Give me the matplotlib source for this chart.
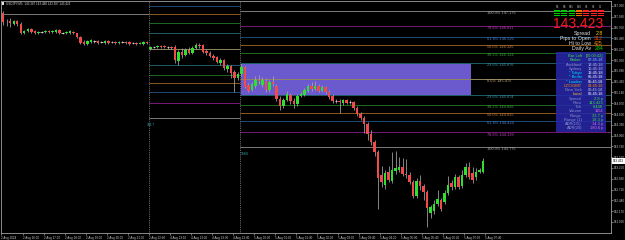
import numpy as np
import matplotlib
matplotlib.use('Agg')
import matplotlib.pyplot as plt
from matplotlib.patches import Rectangle

plt.rcParams['font.family'] = ['Liberation Sans', 'DejaVu Sans']

# ── USDJPY M5 candles ──
opens = [
    147.125, 146.900, 146.925, 146.850, 146.925, 146.850, 146.625, 146.675, 146.725, 146.675,
    146.625, 146.650, 146.650, 146.675, 146.650, 146.650, 146.700, 146.625, 146.625, 146.625,
    146.650, 146.625, 146.525, 146.400, 146.350, 146.400, 146.425, 146.425, 146.400, 146.375,
    146.425, 146.400, 146.400, 146.375, 146.400, 146.400, 146.400, 146.375, 146.375, 146.350,
    146.350, 146.400, 146.225, 146.275, 146.275, 146.300, 146.300, 146.275, 146.275, 146.275,
    145.925, 146.150, 146.075, 146.200, 146.125, 146.250, 146.325, 146.325, 146.175, 146.125,
    146.050, 146.025, 145.875, 145.950, 145.725, 145.800, 145.650, 145.500, 145.600, 145.775,
    145.325, 145.200, 145.300, 145.450, 145.325, 145.425, 145.200, 145.400, 145.300, 144.975,
    144.800, 144.950, 145.075, 144.925, 144.850, 145.050, 145.075, 145.175, 145.300, 145.225,
    145.300, 145.175, 145.275, 145.150, 145.050, 144.925, 144.925, 144.875, 144.950, 144.900,
    144.900, 144.750, 144.600, 144.500, 144.350, 144.100, 143.900, 143.650, 143.075, 142.825,
    143.150, 142.925, 143.175, 143.200, 143.275, 143.100, 143.075, 142.900, 142.550, 142.925,
    142.800, 142.650, 142.125, 142.175, 142.350, 142.450, 142.400, 142.625, 142.875, 142.775,
    143.025, 142.800, 143.075, 143.275, 143.125, 143.025, 143.150, 143.150,
]
closes = [
    146.900, 146.890, 146.875, 146.925, 146.850, 146.625, 146.675, 146.725, 146.650, 146.625,
    146.650, 146.645, 146.675, 146.650, 146.675, 146.700, 146.625, 146.620, 146.650, 146.675,
    146.625, 146.525, 146.375, 146.350, 146.425, 146.450, 146.420, 146.375, 146.395, 146.425,
    146.375, 146.405, 146.375, 146.400, 146.395, 146.375, 146.350, 146.370, 146.350, 146.375,
    146.400, 146.375, 146.275, 146.270, 146.300, 146.275, 146.275, 146.270, 146.250, 145.950,
    146.150, 146.075, 146.200, 146.125, 146.250, 146.325, 146.300, 146.150, 146.125, 146.050,
    146.000, 145.900, 145.950, 145.750, 145.800, 145.625, 145.500, 145.600, 145.775, 145.275,
    145.175, 145.350, 145.450, 145.425, 145.450, 145.200, 145.400, 145.350, 144.975, 144.800,
    144.950, 145.100, 144.925, 144.850, 145.050, 145.100, 145.200, 145.300, 145.225, 145.300,
    145.175, 145.275, 145.150, 145.025, 144.925, 144.920, 144.900, 144.950, 144.875, 144.895,
    144.750, 144.600, 144.500, 144.350, 144.100, 143.900, 143.650, 143.000, 142.900, 143.125,
    142.950, 143.200, 143.250, 143.275, 143.100, 143.075, 142.900, 142.550, 142.925, 142.800,
    142.650, 142.250, 142.275, 142.350, 142.475, 142.225, 142.625, 142.825, 142.775, 143.025,
    142.775, 143.075, 143.275, 143.025, 142.950, 143.150, 143.200, 143.423,
]
highs = [
    147.175, 146.975, 147.000, 146.950, 146.950, 146.900, 146.700, 146.750, 146.750, 146.700,
    146.675, 146.675, 146.700, 146.700, 146.700, 146.725, 146.725, 146.650, 146.675, 146.700,
    146.675, 146.625, 146.550, 146.450, 146.450, 146.475, 146.450, 146.450, 146.425, 146.450,
    146.450, 146.425, 146.425, 146.425, 146.425, 146.425, 146.425, 146.400, 146.400, 146.400,
    146.425, 146.425, 146.300, 146.300, 146.325, 146.325, 146.325, 146.300, 146.300, 146.325,
    146.200, 146.250, 146.250, 146.275, 146.300, 146.375, 146.375, 146.350, 146.225, 146.175,
    146.100, 146.050, 146.000, 145.975, 145.850, 145.825, 145.700, 145.650, 145.850, 145.800,
    145.375, 145.400, 145.550, 145.575, 145.525, 145.500, 145.450, 145.550, 145.350, 145.050,
    145.000, 145.175, 145.125, 145.000, 145.100, 145.150, 145.250, 145.350, 145.400, 145.425,
    145.350, 145.325, 145.300, 145.200, 145.100, 144.975, 144.975, 144.975, 144.975, 144.950,
    144.925, 144.800, 144.650, 144.550, 144.400, 144.200, 143.950, 143.700, 143.300, 143.200,
    143.300, 143.650, 143.675, 143.525, 143.500, 143.475, 143.150, 142.950, 143.000, 143.075,
    142.850, 142.700, 142.325, 142.450, 142.700, 142.500, 142.700, 143.050, 142.950, 143.100,
    143.075, 143.200, 143.375, 143.400, 143.275, 143.250, 143.250, 143.500,
]
lows = [
    146.825, 146.800, 146.775, 146.825, 146.800, 146.600, 146.600, 146.650, 146.625, 146.600,
    146.600, 146.625, 146.625, 146.625, 146.625, 146.625, 146.600, 146.600, 146.600, 146.600,
    146.600, 146.500, 146.350, 146.325, 146.325, 146.375, 146.375, 146.350, 146.375, 146.350,
    146.350, 146.375, 146.350, 146.350, 146.375, 146.350, 146.325, 146.350, 146.325, 146.350,
    146.325, 146.350, 146.200, 146.250, 146.250, 146.250, 146.250, 146.225, 146.225, 145.875,
    145.825, 146.000, 146.050, 146.100, 146.100, 146.225, 146.250, 146.125, 146.075, 146.025,
    145.950, 145.875, 145.825, 145.700, 145.650, 145.500, 145.150, 145.450, 145.550, 145.250,
    145.150, 145.175, 145.250, 145.350, 145.275, 145.150, 145.150, 145.300, 144.925, 144.700,
    144.750, 144.925, 144.850, 144.750, 144.800, 145.025, 145.050, 145.150, 145.175, 145.200,
    145.150, 145.150, 145.100, 144.975, 144.875, 144.875, 144.625, 144.825, 144.850, 144.850,
    144.700, 144.550, 144.450, 144.125, 143.950, 143.825, 143.550, 142.225, 142.775, 142.725,
    142.900, 142.875, 143.100, 143.150, 143.050, 143.000, 142.850, 142.500, 142.500, 142.700,
    142.450, 141.775, 142.000, 142.100, 142.300, 142.175, 142.350, 142.575, 142.700, 142.725,
    142.725, 142.750, 143.025, 142.975, 142.875, 142.950, 143.125, 143.125,
]

# day separators (bar positions) and the weekend range box
day_breaks = [41.5, 67.5]
box_bars = (67.8, 133.5)
box_prices = (145.050, 145.875)
old_level = 147.100

# fibonacci levels: left set (previous session) and right set (current)
fib_labels = ['100.0%', '78.6%', '61.8%', '50.0%', '38.2%', '23.6%', '0.0%',
              '23.6%', '38.2%', '50.0%', '61.8%', '78.6%', '100.0%']
fib_left = [147.950, 147.581, 147.291, 147.088, 146.884, 146.632, 146.225,
            145.818, 145.566, 145.363, 145.159, 144.869, 144.500]
fib_right = [147.175, 146.811, 146.526, 146.325, 146.124, 145.876, 145.475,
             145.074, 144.826, 144.625, 144.424, 144.139, 143.775]
fib_line_cols = ['#7a7a7a', '#761876', '#1d4a72', '#8a5a20', '#1e6a1e', '#1d5a66', '#8f8660',
                 '#1d5a66', '#1e6a1e', '#8a5a20', '#1d4a72', '#761876', '#7a7a7a']
fib_text_cols = ['#b0b0b0', '#c040c0', '#4a80c8', '#c88040', '#3aa03a', '#3a9ab0', '#c8b070',
                 '#3a9ab0', '#3aa03a', '#c88040', '#4a80c8', '#c040c0', '#b0b0b0']

# range labels at the separators
range_texts = ['166.7', '158.6']
range_pos = [(41.0, 144.325), (67.7, 143.600)]

# axes labels
price_ticks = [147.30, 147.03, 146.76, 146.49, 146.22, 145.95, 145.68, 145.41, 145.14, 144.87,
               144.60, 144.33, 144.06, 143.79, 143.52, 143.25, 142.98, 142.71, 142.44, 142.17,
               141.90]
time_labels = ['2 Aug 2024', '2 Aug 16:00', '2 Aug 17:00', '2 Aug 18:00', '2 Aug 19:00',
               '2 Aug 20:00', '2 Aug 21:00', '2 Aug 22:40', '4 Aug 23:10', '4 Aug 23:20',
               '4 Aug 23:30', '4 Aug 23:40', '5 Aug 00:20', '5 Aug 01:00', '5 Aug 01:40',
               '5 Aug 02:20', '5 Aug 03:00', '5 Aug 03:40', '5 Aug 04:20', '5 Aug 05:00',
               '5 Aug 05:40', '5 Aug 06:20', '5 Aug 07:00', '5 Aug 07:40']

# info block (top right)
tf_names = ['M1', 'M5', 'M15', 'M30', 'H1', 'H4', 'D1']
tf_cols = ['#00c800', '#00c800', '#00c800', '#ff6a00', '#ff2020', '#ff2020', '#ff2020']
info_labels = ['Spread', 'Pips to Open', 'Hi to Low', 'Daily Av']
info_values = ['2.8', '312', '425', '284']
info_cols = ['#ffd700', '#ff4500', '#ff8c00', '#00e000']

panel_labels = ['Bar Left', 'Broker', 'Auckland', 'Sydney', '* Tokyo', '* Berlin', '* London',
                'UTC/GMT', 'New York', 'Local', 'Spread', 'Price', 'Tick', 'Volume', 'Range',
                'Range (1)', 'ADR(1/5)', 'ADR(20)']
panel_values = ['[00:00:42]', '07:45:18', '18:45:18', '16:45:18', '13:45:18', '06:45:18',
                '05:45:18', '04:45:18', '00:45:18', '06:45:18', '2.8 p', '143.423', '0.448',
                '1154', '33.7 p', '18.3 p', '14.3 p', '180.6 p']
panel_lab_cols = ['#40e040', '#40e040', '#9090d0', '#9090d0', '#00e0ff', '#00e0ff', '#00e0ff',
                  '#ff8c00', '#9090d0', '#ffc040', '#9090d0', '#9090d0', '#9090d0', '#9090d0',
                  '#9090d0', '#9090d0', '#9090d0', '#9090d0']
panel_val_cols = ['#40e040', '#80c0ff', '#c0c0e0', '#c0c0e0', '#ffffff', '#ffffff', '#ffffff',
                  '#ff8c00', '#c0c0e0', '#ffffff', '#40e040', '#40e040', '#40e040', '#e070e0',
                  '#40e040', '#40e040', '#e070e0', '#e070e0']

W, H = 625, 240


def fx(px):
    return px / W


def fy(py):
    return 1 - py / H


fig = plt.figure(figsize=(6.25, 2.4), dpi=100, facecolor='black')
ax = fig.add_axes([1.5 / W, 7 / H, 609.5 / W, 232 / H])
ax.set_facecolor('black')
ax.set_xlim(-0.5, 173.5)
ax.set_ylim(141.625, 147.425)

# ── box, levels, separators ──
ax.add_patch(Rectangle((box_bars[0], box_prices[0]), box_bars[1] - box_bars[0],
                       box_prices[1] - box_prices[0], color='#6a5acd', lw=0, zorder=1))
ax.hlines(old_level, -0.5, day_breaks[0], color='#7a7a7a', lw=0.7, zorder=2)
ax.hlines(fib_left, day_breaks[0], day_breaks[1], colors=fib_line_cols, lw=0.7, zorder=2)
ax.hlines(fib_right, day_breaks[1], 173.5, colors=fib_line_cols, lw=0.7, zorder=2)
for xb in day_breaks:
    ax.axvline(xb, color='#8a8a8a', lw=0.6, ls=(0, (1, 1.2)), zorder=2)
for lab, p, col in zip(fib_labels, fib_right, fib_text_cols):
    ax.text(138.1, p - 0.01, f'{lab} {p:.3f}', fontsize=2.8, color=col,
            ha='left', va='top', zorder=6)
for t, (bx, by) in zip(range_texts, range_pos):
    ax.text(bx, by, t, fontsize=2.3, color='#40b0c0', ha='left', va='center', zorder=6)

# ── candles ──
idx = np.arange(len(opens))
o = np.array(opens)
c = np.array(closes)
up = c > o + 0.006
dn = c < o - 0.006
flat = ~(up | dn)
ax.vlines(idx, lows, highs, color='#a8a8a8', lw=0.55, zorder=3)
ax.bar(idx[up], (c - o)[up], bottom=o[up], width=0.7, color='#2fe02f', lw=0, zorder=4)
ax.bar(idx[dn], (c - o)[dn], bottom=o[dn], width=0.7, color='#f04a4a', lw=0, zorder=4)
ax.hlines(c[flat], idx[flat] - 0.38, idx[flat] + 0.38, color='#e0e0e0', lw=0.6, zorder=4)

# ── axes ──
for sp in ax.spines.values():
    sp.set_color('#a0a0a0')
    sp.set_linewidth(0.6)
ax.yaxis.tick_right()
ax.set_yticks(price_ticks)
ax.set_yticklabels([f'{p:.3f}' for p in price_ticks])
ax.tick_params(axis='y', colors='#c8c8c8', labelsize=2.2, length=1.2, width=0.4, pad=1)
ax.set_xticks([6 * k - 0.5 for k in range(len(time_labels))])
ax.set_xticklabels(time_labels, ha='left')
ax.tick_params(axis='x', colors='#c8c8c8', labelsize=2.2, length=1.2, width=0.4, pad=0.8)

ax.text(1.003, closes[-1], f'{closes[-1]:.3f}', transform=ax.get_yaxis_transform(),
        fontsize=2.2, color='black', ha='left', va='center', clip_on=False, zorder=10,
        bbox=dict(boxstyle='square,pad=0.35', fc='white', ec='none'))

# ── header ──
fig.add_artist(Rectangle((fx(2), fy(4.5)), 2.2 / W, 2.2 / H, transform=fig.transFigure,
                         color='#e0e0e0', lw=0))
fig.text(fx(6), fy(4.6), 'USDJPY,M5  143.387 143.488 143.387 143.423', fontsize=2.2,
         color='#d0d0d0', ha='left', va='baseline')

# ── timeframe strength bars ──
for k, (name, col) in enumerate(zip(tf_names, tf_cols)):
    x0 = 554 + 7.3 * k
    fig.text(fx(x0 + 3), fy(8), name, fontsize=1.8, color='#c0c0c0', ha='center', va='baseline')
    for r in range(3):
        y0 = 10.2 + 2.3 * r
        fig.add_artist(Rectangle((fx(x0), fy(y0 + 1.5)), 6 / W, 1.5 / H,
                                 transform=fig.transFigure, color=col, lw=0))

fig.text(fx(603), fy(28.3), f'{closes[-1]:.3f}', fontsize=10, color='#ff1a1a',
         ha='right', va='baseline')
for k, (lab, val, col) in enumerate(zip(info_labels, info_values, info_cols)):
    yb = 34.9 + 5 * k
    fig.text(fx(591), fy(yb), lab, fontsize=3.8, color='#e0e0e0', ha='right', va='baseline')
    fig.text(fx(603), fy(yb), val, fontsize=3.8, color=col, ha='right', va='baseline')

# ── session / stats panel ──
fig.add_artist(Rectangle((fx(556), fy(132)), 50 / W, 80 / H, transform=fig.transFigure,
                         color='#2626a6', alpha=0.88, lw=0, zorder=5))
for k, (lab, val, lc, vc) in enumerate(zip(panel_labels, panel_values,
                                           panel_lab_cols, panel_val_cols)):
    yb = 57.2 + 4.25 * k
    fig.text(fx(582), fy(yb), lab, fontsize=2.9, color=lc, ha='right', va='baseline', zorder=6)
    fig.text(fx(603), fy(yb), val, fontsize=2.9, color=vc, ha='right', va='baseline', zorder=6)

fig.savefig('out.png', dpi=100, facecolor='black')
